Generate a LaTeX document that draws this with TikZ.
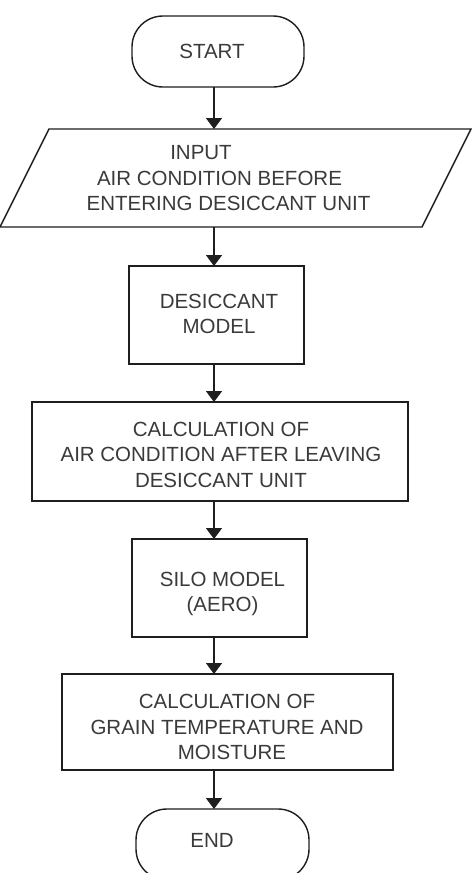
\documentclass[tikz,border=0pt]{standalone}
\usepackage{fontspec}
\setmainfont{Liberation Sans}
\usetikzlibrary{arrows.meta}
\definecolor{ln}{HTML}{1E1E1E}
\definecolor{tx}{HTML}{3A3A3A}
\begin{document}
\begin{tikzpicture}[x=1pt,y=-1pt,
  boxst/.style={draw=ln, line width=1.4pt, inner sep=0pt, outer sep=0pt},
  term/.style={boxst, rounded corners=31pt},
  lbl/.style={text=tx, font=\fontsize{20.5}{25.5}\selectfont, align=center, inner sep=0pt},
  arr/.style={draw=ln, line width=1.4pt, -{Triangle[length=11pt,width=16pt]}}]
\useasboundingbox[fill=white] (0,0) rectangle (472,873);
\clip (0,0) rectangle (472,873);
\coordinate (ax) at (214,0);
% START
\node[term, minimum width=172pt, minimum height=71pt] (start) at (218,51.5) {};
\node[lbl] (startT) at (212,51) {START};
% INPUT parallelogram
\draw[boxst] (49,129) coordinate (pTL) -- (471,129) coordinate (pTR) -- (422,227) coordinate (pBR) -- (0,227) coordinate (pBL) -- cycle;
\coordinate (inTop) at (235,129);
\coordinate (inBot) at (211,227);
\node[lbl] (inputT) at (216,178.5) {INPUT\hspace*{30pt}\\\hspace*{7pt}AIR CONDITION BEFORE\\\hspace*{25pt}ENTERING DESICCANT UNIT};
% DESICCANT MODEL
\node[boxst, minimum width=175pt, minimum height=98pt] (desic) at (216.5,315) {};
\node[lbl] (desicT) at (219,314) {DESICCANT\\MODEL};
% CALCULATION air
\node[boxst, minimum width=376pt, minimum height=99pt] (calc) at (220,451.5) {};
\node[lbl] (calcT) at (221,454.5) {CALCULATION OF\\AIR CONDITION AFTER LEAVING\\DESICCANT UNIT};
% SILO MODEL
\node[boxst, minimum width=175pt, minimum height=98pt] (silo) at (219.5,588) {};
\node[lbl] (siloT) at (222.5,594) {SILO MODEL\\(AERO)};
% CALCULATION grain
\node[boxst, minimum width=331pt, minimum height=96pt] (grain) at (227.5,722) {};
\node[lbl] (grainT) at (227,727) {CALCULATION OF\\GRAIN TEMPERATURE AND\\\hspace*{10pt}MOISTURE};
% END
\node[term, minimum width=173pt, minimum height=71pt] (finish) at (222.5,844.5) {};
\node[lbl] (finishT) at (212,840) {END};
% connectors
\draw[arr] (start.south -| ax) -- (inTop -| ax);
\draw[arr] (inBot -| ax) -- (desic.north -| ax);
\draw[arr] (desic.south -| ax) -- (calc.north -| ax);
\draw[arr] (calc.south -| ax) -- (silo.north -| ax);
\draw[arr] (silo.south -| ax) -- (grain.north -| ax);
\draw[arr] (grain.south -| ax) -- (finish.north -| ax);
\end{tikzpicture}
\end{document}
